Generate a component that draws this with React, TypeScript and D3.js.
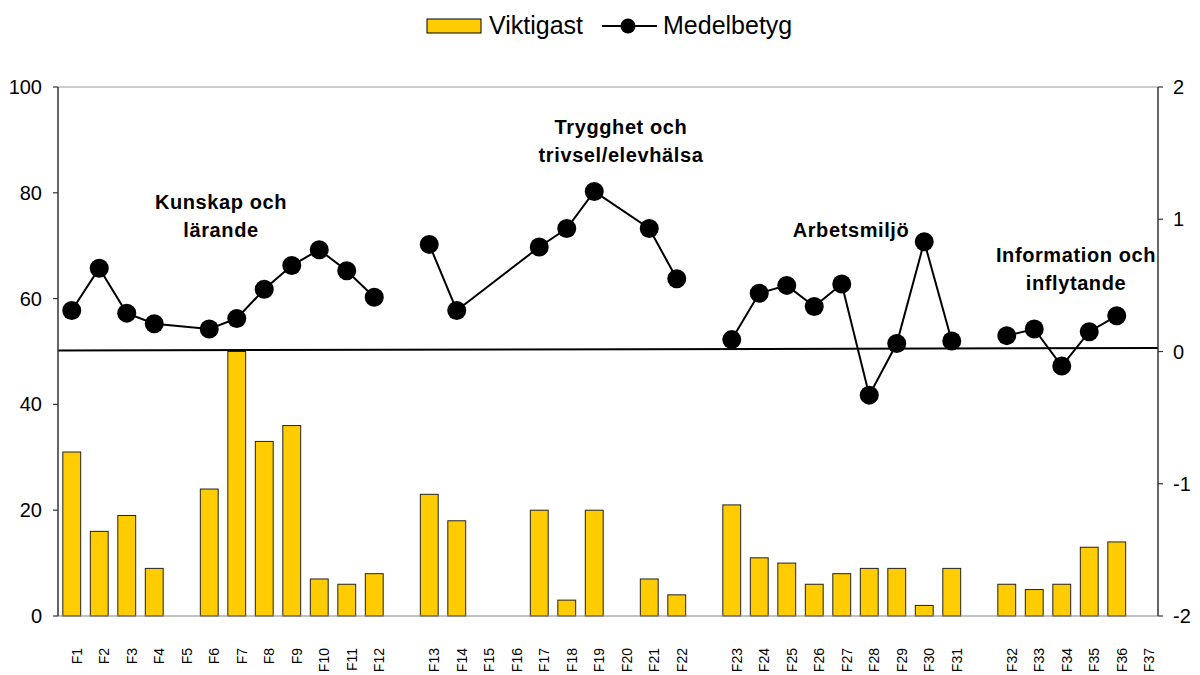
import React from "react";
import * as d3 from "d3";

const groups: string[][] = [
  ["F1","F2","F3","F4","F5","F6","F7","F8","F9","F10","F11","F12"],
  ["F13","F14","F15","F16","F17","F18","F19","F20","F21","F22"],
  ["F23","F24","F25","F26","F27","F28","F29","F30","F31"],
  ["F32","F33","F34","F35","F36","F37"],
];
const categories: string[] = groups.flat();
const viktigast: number[] = [31,16,19,9,0,24,50,33,36,7,6,8, 23,18,0,0,20,3,20,0,7,4, 21,11,10,6,8,9,9,2,9, 6,5,6,13,14,0];
const medelbetyg: (number|null)[] = [0.31,0.63,0.29,0.21,null,0.17,0.25,0.47,0.65,0.77,0.61,0.41, 0.81,0.31,null,null,0.79,0.93,1.21,null,0.93,0.55, 0.09,0.44,0.50,0.34,0.51,-0.33,0.06,0.83,0.08, 0.12,0.17,-0.11,0.15,0.27,null];
const leftTicks = [0,20,40,60,80,100];
const rightTicks = [-2,-1,0,1,2];
const annotations = [
  { lines: ["Kunskap och","lärande"], x: 221, y: 209 },
  { lines: ["Trygghet och","trivsel/elevhälsa"], x: 621, y: 134 },
  { lines: ["Arbetsmiljö"], x: 851, y: 237 },
  { lines: ["Information och","inflytande"], x: 1076, y: 262 },
];

// slots with gap entries between groups
const slots: string[] = [];
groups.forEach((g, i) => { if (i > 0) slots.push("gap" + i); slots.push(...g); });

export default function App() {
  const W = 1200, H = 675;
  const left = 58, right = 1158, top = 87, bottom = 616;
  const x = d3.scaleBand<string>().domain(slots).range([left, right]).paddingInner(0.35).paddingOuter(0.175);
  const yL = d3.scaleLinear().domain([0, 100]).range([bottom, top]);
  const yR = d3.scaleLinear().domain([-2, 2]).range([bottom, top]);
  const cx = (c: string) => (x(c) as number) + x.bandwidth() / 2;
  const font = "'Liberation Sans', Arial, sans-serif";
  const line = d3.line<{c: string; v: number}>().x(d => cx(d.c)).y(d => yR(d.v));
  let idx = 0;
  const groupLines = groups.map(g => {
    const pts = g.map(c => ({ c, v: medelbetyg[categories.indexOf(c)] })).filter(d => d.v !== null) as {c: string; v: number}[];
    idx++;
    return pts;
  });
  const allPts = groupLines.flat();
  return (
    <svg width={W} height={H} style={{ position: "absolute", left: 0, top: 0, background: "#fff" }} fontFamily={font}>
      {/* top border */}
      <line x1={left} x2={right} y1={top} y2={top} stroke="#999" strokeWidth={1} />
      {/* bars */}
      {categories.map((c, i) => viktigast[i] > 0 ? (
        <rect key={c} x={x(c)} y={yL(viktigast[i])} width={x.bandwidth()} height={yL(0) - yL(viktigast[i])}
          fill="#FFCC00" stroke="#222" strokeWidth={1} />
      ) : null)}
      {/* bottom line */}
      <line x1={left} x2={right} y1={bottom} y2={bottom} stroke="#888" strokeWidth={1.2} />
      {/* zero reference line */}
      <line x1={left} x2={right} y1={350.5} y2={348} stroke="#000" strokeWidth={2} />
      {/* axes */}
      <line x1={left} x2={left} y1={top} y2={bottom} stroke="#333" strokeWidth={1.5} />
      <line x1={right} x2={right} y1={top} y2={bottom} stroke="#333" strokeWidth={1.5} />
      {leftTicks.map(t => (
        <g key={"l" + t}>
          <line x1={left - 5} x2={left} y1={yL(t)} y2={yL(t)} stroke="#333" strokeWidth={1.2} />
          <text x={42} y={yL(t)} textAnchor="end" dominantBaseline="central" fontSize={20} fill="#000">{t}</text>
        </g>
      ))}
      {rightTicks.map(t => (
        <g key={"r" + t}>
          <line x1={right} x2={right + 5} y1={yR(t)} y2={yR(t)} stroke="#333" strokeWidth={1.2} />
          <text x={1173} y={yR(t)} textAnchor="start" dominantBaseline="central" fontSize={20} fill="#000">{t}</text>
        </g>
      ))}
      {/* x labels */}
      {categories.map(c => (
        <text key={"x" + c} transform={`translate(${cx(c) + 5},${648}) rotate(-90)`} textAnchor="end"
          dominantBaseline="central" fontSize={14} fill="#000">{c}</text>
      ))}
      {/* line series */}
      {groupLines.map((pts, i) => (
        <path key={"g" + i} d={line(pts) || ""} fill="none" stroke="#000" strokeWidth={2} />
      ))}
      {allPts.map(d => (
        <circle key={"p" + d.c} cx={cx(d.c)} cy={yR(d.v)} r={9.5} fill="#000" />
      ))}
      {/* annotations */}
      {annotations.map((a, i) => (
        <text key={"a" + i} x={a.x} y={a.y} textAnchor="middle" fontSize={20} fontWeight="bold" fill="#000" letterSpacing={0.6}>
          {a.lines.map((l, j) => <tspan key={j} x={a.x} y={a.y + j * 28}>{l}</tspan>)}
        </text>
      ))}
      {/* legend */}
      <rect x={427} y={19} width={54} height={14} fill="#FFCC00" stroke="#000" strokeWidth={1} />
      <text x={489} y={34} fontSize={25} fill="#000">Viktigast</text>
      <line x1={602} x2={657} y1={26} y2={26} stroke="#000" strokeWidth={2} />
      <circle cx={628} cy={26} r={7.5} fill="#000" />
      <text x={663} y={34} fontSize={25} fill="#000">Medelbetyg</text>
    </svg>
  );
}
